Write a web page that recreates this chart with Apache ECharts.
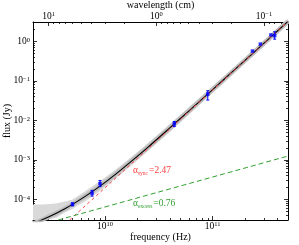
<!DOCTYPE html>
<html><head><meta charset="utf-8">
<script src="https://cdn.jsdelivr.net/npm/echarts@6/dist/echarts.min.js"></script>
<style>html,body{margin:0;padding:0;background:#fff}#c{width:299px;height:245px}</style>
</head><body><div id="c"></div>
<script>
// axis ranges
const freqMin = 2.15e9, freqMax = 5e11;
const fluxMin = 3e-5, fluxMax = 3.1;
const lightSpeed = 2.998e10; // cm/s
// tick labels
const freqTicks = [1e10, 1e11];
const waveTicks = [10, 1, 0.1];
const fluxTicks = [1e-4, 1e-3, 1e-2, 1e-1, 1];
// observed points
const obsFreq = [5.0e9, 7.6e9, 9.0e9, 4.4e10, 9.0e10, 2.34e11, 2.77e11, 3.47e11, 3.76e11];
const obsFlux = [7.46e-5, 1.44e-4, 2.51e-4, 8.15e-3, 0.0463, 0.568, 0.854, 1.46, 1.40];
// error bars
const errFreq = [5.0e9, 7.6e9, 9.0e9, 4.4e10, 9.0e10, 3.76e11];
const errLow  = [6.85e-5, 1.21e-4, 2.11e-4, 6.97e-3, 0.0327, 1.14];
const errHigh = [8.15e-5, 1.69e-4, 2.99e-4, 9.33e-3, 0.0562, 1.75];
// best-fit model curve
const modelFreq = [2.15e9, 2.65e9, 3.5e9, 4.25e9, 5e9, 6.5e9, 9e9, 1.2e10, 1.7e10, 2.5e10, 4e10, 6e10, 1e11, 1.5e11, 2.5e11, 3.5e11, 5e11];
const modelFlux = [2.45e-5, 3.1e-5, 4.41e-5, 5.8e-5, 7.46e-5, 1.17e-4, 2.16e-4, 3.93e-4, 8.55e-4, 2.08e-3, 6.43e-3, 0.01724, 0.0604, 0.1639, 0.578, 1.325, 3.2];
// uncertainty band
const bandFreq  = [2.15e9, 2.65e9, 3.5e9, 4.25e9, 5e9, 6.5e9, 9e9, 1.2e10, 1.7e10, 2.5e10, 4e10, 6e10, 1e11, 1.5e11, 2.5e11, 3.5e11, 5e11];
const bandUpper = [7.38e-5, 7.46e-5, 7.83e-5, 8.8e-5, 9.88e-5, 1.575e-4, 2.9e-4, 5.12e-4, 1.098e-3, 2.63e-3, 8.11e-3, 0.0214, 0.0732, 0.1954, 0.689, 1.578, 3.81];
const bandLower = [3e-5, 3e-5, 3.36e-5, 4.63e-5, 5.68e-5, 8.8e-5, 1.62e-4, 3.03e-4, 6.65e-4, 1.65e-3, 5.08e-3, 0.0139, 0.0498, 0.1378, 0.485, 1.112, 2.69];
// power-law components
const syncFreq = [4.7e9, 5e11];
const syncFlux = [3e-5, 3.2];
const excessFreq = [3.68e9, 5e11];
const excessFlux = [3e-5, 1.25e-3];
const syncAlpha = '2.47';
const excessAlpha = '0.76';

const FONT = 'Liberation Serif';
function minors(lo, hi) {
  const out = [];
  for (let e = Math.floor(Math.log10(lo)) - 1; e <= Math.ceil(Math.log10(hi)); e++) {
    for (let k = 2; k <= 9; k++) {
      const v = k * Math.pow(10, e);
      if (v >= lo * 1.0001 && v <= hi * 0.9999) out.push(v);
    }
  }
  return out;
}
function powLabel(v) {
  const e = Math.round(Math.log10(v));
  return '{b|10}{e|' + (e < 0 ? '\u2212' + (-e) : e) + '}';
}
const labelRich = {
  b: {fontSize: 9.5, fontFamily: FONT, color: '#000', lineHeight: 10, verticalAlign: 'bottom'},
  e: {fontSize: 6.5, fontFamily: FONT, color: '#000', lineHeight: 10, verticalAlign: 'top'}
};
const line = {show: true, lineStyle: {color: '#000', width: 1}};
function majorAxis(extra, ticks, margin) {
  return Object.assign({
    type: 'log', logBase: 10,
    axisLine: line,
    axisTick: {show: true, inside: true, length: 4, customValues: ticks, lineStyle: {color: '#000', width: 0.8}},
    axisLabel: {show: true, customValues: ticks, formatter: powLabel, rich: labelRich, margin: margin},
    splitLine: {show: false}, minorTick: {show: false}, minorSplitLine: {show: false},
    nameMoveOverlap: false
  }, extra);
}
function minorAxis(extra, lo, hi) {
  return Object.assign({
    type: 'log', logBase: 10,
    axisLine: {show: false},
    axisTick: {show: true, inside: true, length: 2, customValues: minors(lo, hi), lineStyle: {color: '#000', width: 0.8}},
    axisLabel: {show: false},
    splitLine: {show: false}
  }, extra);
}
const waveMin = lightSpeed / freqMax, waveMax = lightSpeed / freqMin;
const nameStyle = {fontSize: 10, fontFamily: FONT, color: '#000'};

const chart = echarts.init(document.getElementById('c'), null, {renderer: 'canvas'});
chart.setOption({
  animation: false,
  backgroundColor: '#fff',
  grid: {left: 33, right: 11, top: 22, bottom: 25, containLabel: false, outerBoundsMode: 'none'},
  xAxis: [
    majorAxis({min: freqMin, max: freqMax, position: 'bottom', name: 'frequency (Hz)', nameLocation: 'middle', nameGap: 12, nameTextStyle: nameStyle}, freqTicks, 1),
    minorAxis({min: freqMin, max: freqMax, position: 'bottom'}, freqMin, freqMax),
    majorAxis({min: waveMin, max: waveMax, inverse: true, position: 'top', name: 'wavelength (cm)', nameLocation: 'middle', nameGap: 11.5, nameTextStyle: nameStyle}, waveTicks, 1),
    minorAxis({min: waveMin, max: waveMax, inverse: true, position: 'top'}, waveMin, waveMax)
  ],
  yAxis: [
    majorAxis({min: fluxMin, max: fluxMax, position: 'left', name: 'flux (Jy)', nameLocation: 'middle', nameGap: 21, nameTextStyle: nameStyle}, fluxTicks, 3),
    minorAxis({min: fluxMin, max: fluxMax, position: 'left'}, fluxMin, fluxMax),
    majorAxis({min: fluxMin, max: fluxMax, position: 'right', axisLabel: {show: false}}, fluxTicks, 3),
    minorAxis({min: fluxMin, max: fluxMax, position: 'right'}, fluxMin, fluxMax)
  ],
  series: [
    {
      type: 'custom', xAxisIndex: 0, yAxisIndex: 0, silent: true, z: 1,
      data: [[bandFreq[0], bandUpper[0]]],
      renderItem: function (params, api) {
        const pts = [];
        for (let i = 0; i < bandFreq.length; i++) pts.push(api.coord([bandFreq[i], bandUpper[i]]));
        for (let i = bandFreq.length - 1; i >= 0; i--) pts.push(api.coord([bandFreq[i], bandLower[i]]));
        return {type: 'polygon', shape: {points: pts, smooth: 0}, style: {fill: '#d9d9d9', stroke: null}};
      }
    },
    {
      type: 'line', xAxisIndex: 0, yAxisIndex: 0, z: 1, symbol: 'none', silent: true, smooth: 0.3,
      data: modelFreq.map((f, i) => [f, modelFlux[i]]),
      lineStyle: {color: '#bdbdbd', width: 4.5}
    },
    {
      type: 'line', xAxisIndex: 0, yAxisIndex: 0, z: 3, symbol: 'none', silent: true,
      data: syncFreq.map((f, i) => [f, syncFlux[i]]),
      lineStyle: {color: '#ff4040', width: 1, type: [3, 3]}
    },
    {
      type: 'line', xAxisIndex: 0, yAxisIndex: 0, z: 3, symbol: 'none', silent: true,
      data: excessFreq.map((f, i) => [f, excessFlux[i]]),
      lineStyle: {color: '#33a033', width: 1, type: [5, 3]}
    },
    {
      type: 'line', xAxisIndex: 0, yAxisIndex: 0, z: 2, symbol: 'none', silent: true, smooth: 0.3,
      data: modelFreq.map((f, i) => [f, modelFlux[i]]),
      lineStyle: {color: '#000', width: 1.1}
    },
    {
      type: 'custom', xAxisIndex: 0, yAxisIndex: 0, z: 4, silent: true,
      data: errFreq.map((f, i) => [f, errLow[i], errHigh[i]]),
      encode: {x: 0, y: [1, 2]},
      renderItem: function (params, api) {
        const lo = api.coord([api.value(0), api.value(1)]);
        const hi = api.coord([api.value(0), api.value(2)]);
        const st = {stroke: '#0000ff', lineWidth: 1};
        return {type: 'group', children: [
          {type: 'line', shape: {x1: lo[0], y1: lo[1], x2: hi[0], y2: hi[1]}, style: st},
          {type: 'line', shape: {x1: lo[0] - 1.5, y1: lo[1], x2: lo[0] + 1.5, y2: lo[1]}, style: st},
          {type: 'line', shape: {x1: hi[0] - 1.5, y1: hi[1], x2: hi[0] + 1.5, y2: hi[1]}, style: st}
        ]};
      }
    },
    {
      type: 'scatter', xAxisIndex: 0, yAxisIndex: 0, z: 5, silent: true,
      symbol: 'rect', symbolSize: 3.5,
      itemStyle: {color: '#0000ff'},
      data: obsFreq.map((f, i) => [f, obsFlux[i]])
    }
  ],
  graphic: [
    {type: 'text', left: 133, top: 165, z: 10, style: {
      text: '{a|\u03b1}{s|sync}{a|=' + syncAlpha + '}',
      rich: {a: {fontSize: 9.5, fontFamily: FONT, fill: '#ff4040', lineHeight: 12, verticalAlign: 'top'},
             s: {fontSize: 5.5, fontFamily: FONT, fill: '#ff4040', lineHeight: 12, verticalAlign: 'bottom', padding: [0, 1, 0, 0]}}}},
    {type: 'text', left: 133, top: 198, z: 10, style: {
      text: '{a|\u03b1}{s|excess}{a|=' + excessAlpha + '}',
      rich: {a: {fontSize: 9.5, fontFamily: FONT, fill: '#33a033', lineHeight: 12, verticalAlign: 'top'},
             s: {fontSize: 5.5, fontFamily: FONT, fill: '#33a033', lineHeight: 12, verticalAlign: 'bottom', padding: [0, 1, 0, 0]}}}}
  ]
});
</script></body></html>
